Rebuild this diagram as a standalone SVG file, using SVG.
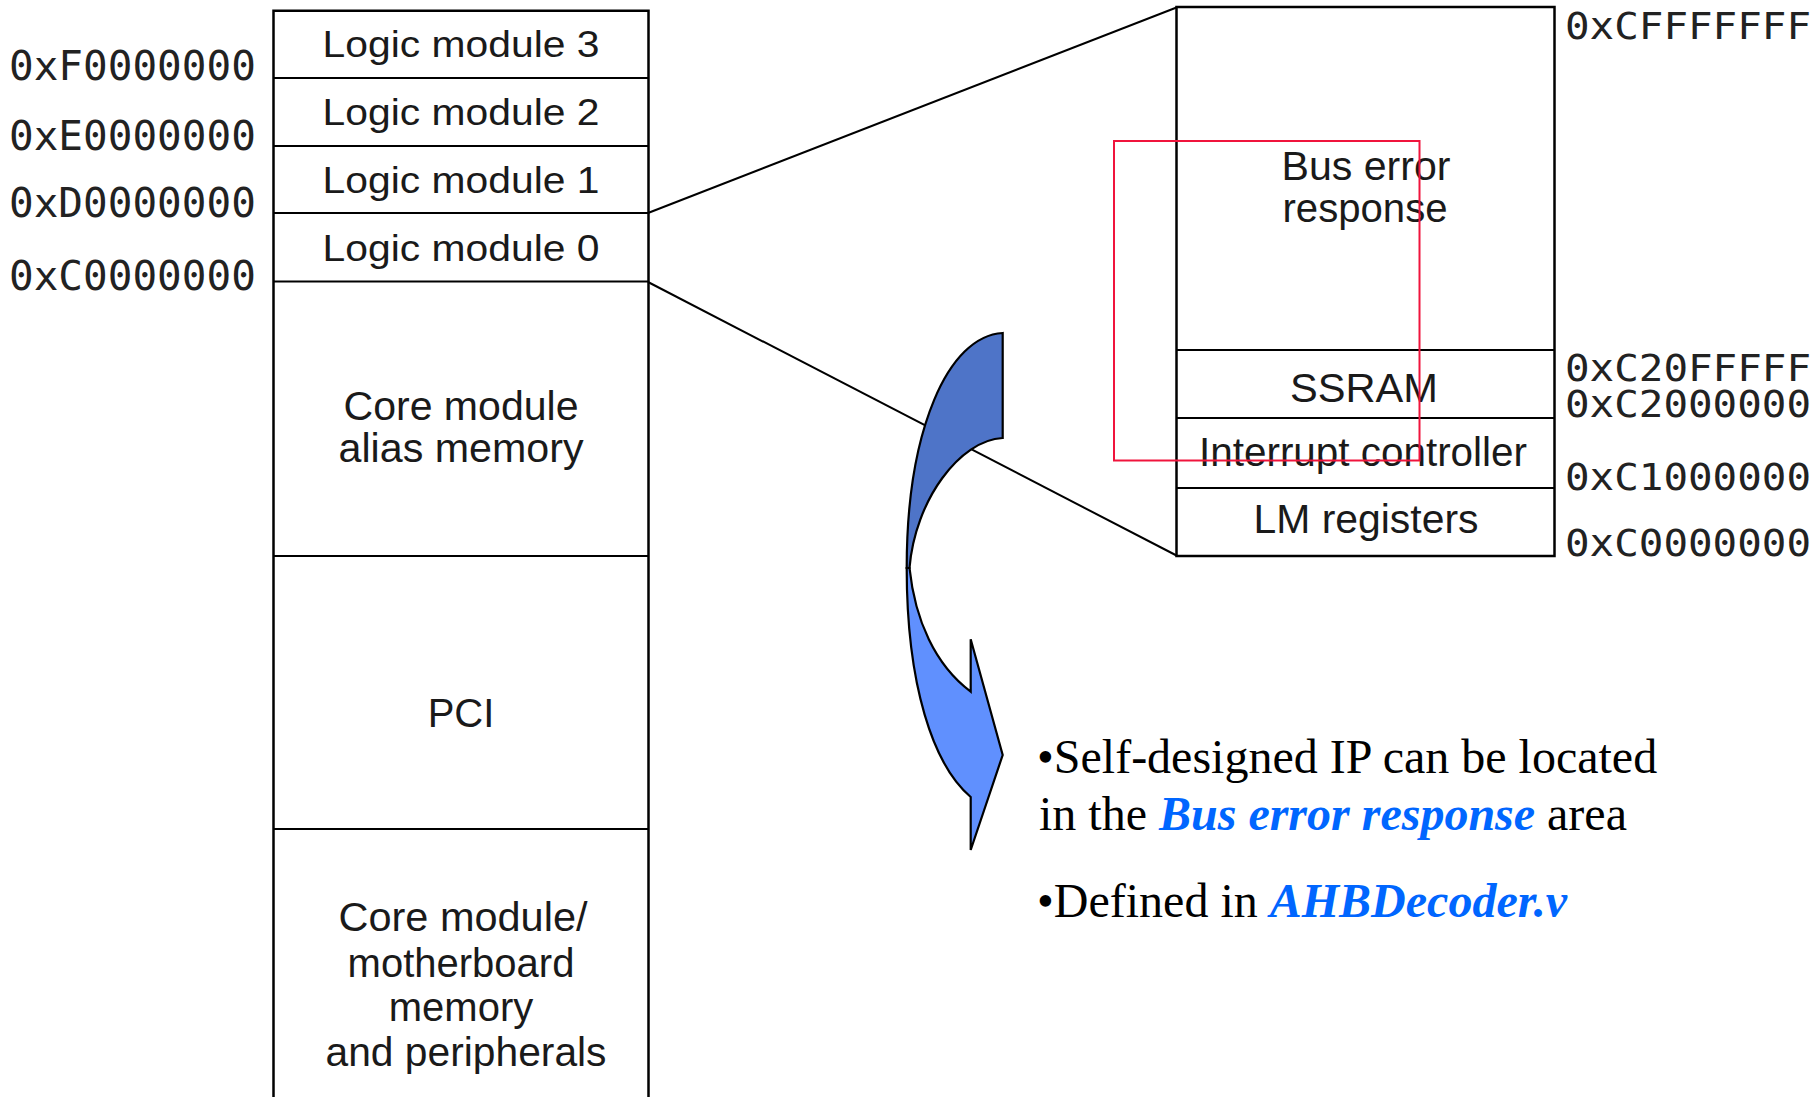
<svg xmlns="http://www.w3.org/2000/svg" width="1814" height="1097" viewBox="0 0 1814 1097">
  <style>
    .box { fill: none; stroke: #000; stroke-width: 2.5; }
    .div { stroke: #000; stroke-width: 2.2; }
    .lbl { font-family: "Liberation Sans", Arial, sans-serif; font-size: 40px; fill: #1a1a1a; text-anchor: middle; }
    .lm { font-size: 37px; }
    .addr { font-family: "DejaVu Sans Mono", "Liberation Mono", monospace; font-size: 41px; fill: #222; }
    .addr-r { font-size: 37.5px; }
    .note { font-family: "Liberation Serif", "Times New Roman", serif; font-size: 48px; fill: #000; }
    .hl { fill: #0066ff; font-weight: bold; font-style: italic; }
    .conn { stroke: #000; stroke-width: 2; fill: none; }
    .arrow { stroke: #000; stroke-width: 2.2; stroke-linejoin: miter; }
  </style>

  <rect width="1814" height="1097" fill="#fff"/>

  <!-- zoom lines from Logic module 0 to the expanded map -->
  <g id="connectors">
    <line class="conn" x1="648" y1="213" x2="1176.5" y2="7.5"/>
    <line class="conn" x1="648" y1="282" x2="1176.5" y2="555.5"/>
  </g>

  <!-- system memory map -->
  <g id="system-map">
    <path class="box" d="M273.5,1100 V10.7 H648.5 V1100"/>
    <line class="div" x1="273.5" y1="78" x2="648.5" y2="78"/>
    <line class="div" x1="273.5" y1="146" x2="648.5" y2="146"/>
    <line class="div" x1="273.5" y1="213" x2="648.5" y2="213"/>
    <line class="div" x1="273.5" y1="281.5" x2="648.5" y2="281.5"/>
    <line class="div" x1="273.5" y1="556" x2="648.5" y2="556"/>
    <line class="div" x1="273.5" y1="829" x2="648.5" y2="829"/>
  </g>

  <g id="logic-module-3"><text class="lbl lm" x="461" y="57" textLength="277" lengthAdjust="spacingAndGlyphs">Logic module 3</text></g>
  <g id="logic-module-2"><text class="lbl lm" x="461" y="125" textLength="277" lengthAdjust="spacingAndGlyphs">Logic module 2</text></g>
  <g id="logic-module-1"><text class="lbl lm" x="461" y="193" textLength="277" lengthAdjust="spacingAndGlyphs">Logic module 1</text></g>
  <g id="logic-module-0"><text class="lbl lm" x="461" y="261" textLength="277" lengthAdjust="spacingAndGlyphs">Logic module 0</text></g>

  <g id="core-alias">
    <text class="lbl" x="461" y="420" textLength="235" lengthAdjust="spacingAndGlyphs">Core module</text>
    <text class="lbl" x="461" y="462" textLength="245" lengthAdjust="spacingAndGlyphs">alias memory</text>
  </g>
  <g id="pci"><text class="lbl" x="461" y="727">PCI</text></g>
  <g id="core-mb">
    <text class="lbl" x="463" y="931" textLength="249" lengthAdjust="spacingAndGlyphs">Core module/</text>
    <text class="lbl" x="461" y="977">motherboard</text>
    <text class="lbl" x="461" y="1021">memory</text>
    <text class="lbl" x="466" y="1066" textLength="281" lengthAdjust="spacingAndGlyphs">and peripherals</text>
  </g>

  <!-- base addresses of the system map -->
  <g id="sys-addresses">
    <text class="addr" x="9" y="80">0xF0000000</text>
    <text class="addr" x="9" y="150">0xE0000000</text>
    <text class="addr" x="9" y="217">0xD0000000</text>
    <text class="addr" x="9" y="290">0xC0000000</text>
  </g>

  <!-- logic module 0 expanded -->
  <g id="lm0-map">
    <rect class="box" x="1176.5" y="7" width="378" height="549"/>
    <line class="div" x1="1176.5" y1="350" x2="1554.5" y2="350"/>
    <line class="div" x1="1176.5" y1="418" x2="1554.5" y2="418"/>
    <line class="div" x1="1176.5" y1="488" x2="1554.5" y2="488"/>
  </g>
  <g id="bus-error">
    <text class="lbl" x="1366" y="180" textLength="169" lengthAdjust="spacingAndGlyphs">Bus error</text>
    <text class="lbl" x="1365" y="222" textLength="165" lengthAdjust="spacingAndGlyphs">response</text>
  </g>
  <g id="ssram"><text class="lbl" x="1364" y="402" textLength="148" lengthAdjust="spacingAndGlyphs">SSRAM</text></g>
  <g id="intc"><text class="lbl" x="1363" y="466" textLength="328" lengthAdjust="spacingAndGlyphs">Interrupt controller</text></g>
  <g id="lm-regs"><text class="lbl" x="1366" y="533" textLength="225" lengthAdjust="spacingAndGlyphs">LM registers</text></g>

  <g id="lm0-addresses">
    <text class="addr addr-r" x="1565" y="38.5" textLength="246" lengthAdjust="spacingAndGlyphs">0xCFFFFFFF</text>
    <text class="addr addr-r" x="1565" y="381" textLength="246" lengthAdjust="spacingAndGlyphs">0xC20FFFFF</text>
    <text class="addr addr-r" x="1565" y="417" textLength="246" lengthAdjust="spacingAndGlyphs">0xC2000000</text>
    <text class="addr addr-r" x="1565" y="490" textLength="246" lengthAdjust="spacingAndGlyphs">0xC1000000</text>
    <text class="addr addr-r" x="1565" y="556" textLength="246" lengthAdjust="spacingAndGlyphs">0xC0000000</text>
  </g>

  <!-- curved arrow pointing to the notes -->
  <g id="curved-arrow">
    <path class="arrow" fill="#6090fe" d="M906.7,568 C906.7,685 933,765 970.7,797 L970.7,850 L1002.7,755 L970.7,639.3 L970.7,691.7 C935,665 915,620 909.5,568 Z"/>
    <path class="arrow" fill="#4e74c8" d="M1002.7,333 C948,336 906.7,430 906.7,568 L909.5,568 C915,500 960,440 1002.7,438 Z"/>
  </g>

  <!-- highlight frame -->
  <g id="highlight">
    <rect x="1114" y="141" width="305.5" height="319.5" fill="none" stroke="#f0143c" stroke-width="2"/>
  </g>

  <g id="notes">
    <text class="note" x="1037" y="773">•Self-designed IP can be located</text>
    <text class="note" x="1039" y="830">in the <tspan class="hl">Bus error response</tspan> area</text>
    <text class="note" x="1037" y="917">•Defined in <tspan class="hl">AHBDecoder.v</tspan></text>
  </g>
</svg>
